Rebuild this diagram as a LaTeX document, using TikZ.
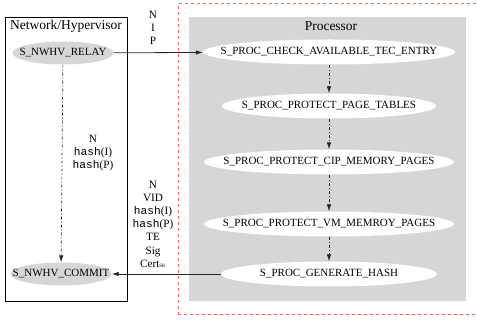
\documentclass[tikz,border=0pt]{standalone}
\usepackage{fontspec}
\setmainfont{Liberation Serif}
\newfontfamily\monof{Liberation Mono}
\usetikzlibrary{arrows.meta,shapes.geometric}
\begin{document}
\begin{tikzpicture}[x=1pt,y=-1pt,
  every node/.style={font=\fontsize{11}{13}\selectfont},
  ttl/.style={font=\fontsize{13.5}{15}\selectfont},
  nw/.style={ellipse,fill=black!16,inner sep=0pt,minimum height=23pt},
  pr/.style={ellipse,fill=white,inner sep=0pt,minimum height=25pt},
  lbl/.style={align=center,inner sep=0pt,font=\fontsize{11.2}{13.2}\selectfont},
  dd/.style={draw=black!85,line width=0.7pt,dash pattern=on 3pt off 2pt on 1pt off 2pt,-{Latex[length=7pt,width=4.5pt]}},
  sol/.style={draw=black!85,line width=0.8pt,-{Latex[length=7pt,width=4.5pt]}}]
\useasboundingbox (0,0) rectangle (477,320);
\draw[red!60,dashed,line width=0.6pt] (178,315) -- (178,3.5) -- (480,3.5);
\draw[red!60,dashed,line width=0.6pt] (178,314.5) -- (480,314.5);
\fill[black!16] (189,17) rectangle (466,301);
\draw[black,line width=0.8pt] (5,17) rectangle (127,301);
\node[ttl] (nwtitle) at (66,26) {Network/Hypervisor};
\node[ttl] (prtitle) at (331,26) {Processor};
\node[nw,minimum width=101pt] (relay) at (63,53) {};
\node (relayt) at (relay.center) {S\_NWHV\_RELAY};
\node[nw,minimum width=101pt] (commit) at (61,274) {};
\node (committ) at (commit.center) {S\_NWHV\_COMMIT};
\node[pr,minimum width=252pt] (check) at (329,52) {};
\node (checkt) at (check.center) {S\_PROC\_CHECK\_AVAILABLE\_TEC\_ENTRY};
\node[pr,minimum width=214pt] (ptab) at (329,106) {};
\node (ptabt) at (ptab.center) {S\_PROC\_PROTECT\_PAGE\_TABLES};
\node[pr,minimum width=250pt] (cip) at (329,162) {};
\node (cipt) at (cip.center) {S\_PROC\_PROTECT\_CIP\_MEMORY\_PAGES};
\node[pr,minimum width=250pt] (vm) at (329,224) {};
\node (vmt) at (vm.center) {S\_PROC\_PROTECT\_VM\_MEMROY\_PAGES};
\node[pr,minimum width=216pt] (gen) at (329,274) {};
\node (gent) at (gen.center) {S\_PROC\_GENERATE\_HASH};
\draw[sol] (relay) -- (check);
\draw[dd] (check) -- (ptab);
\draw[dd] (ptab) -- (cip);
\draw[dd] (cip) -- (vm);
\draw[dd] (vm) -- (gen);
\draw[dd] (relay) -- (commit);
\draw[sol] (gen) -- (commit);
\node[lbl] (l1) at (153,28) {N\\I\\P};
\node[lbl] (l2) at (93,153) {N\\{\monof hash}(I)\\{\monof hash}(P)};
\node[lbl] (l3) at (153,224) {N\\VID\\{\monof hash}(I)\\{\monof hash}(P)\\TE\\Sig\\Cert{\fontsize{5}{6}\selectfont SK}};
\end{tikzpicture}
\end{document}
